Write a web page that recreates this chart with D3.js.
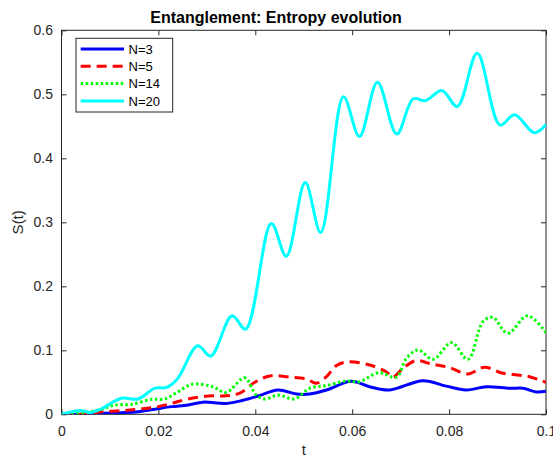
<!DOCTYPE html>
<html>
<head>
<meta charset="utf-8">
<script src="https://cdn.jsdelivr.net/npm/d3@7"></script>
<style>
  body { margin: 0; background: #fff; }
  svg { display: block; font-family: "Liberation Sans", Arial, sans-serif; }
</style>
</head>
<body>
<div id="chart"></div>
<script>
// values
var tN3 = [0, 0.0044, 0.0083, 0.0124, 0.0158, 0.0193, 0.0227, 0.0261, 0.0292, 0.034, 0.0375, 0.0406, 0.0447, 0.0485, 0.0512, 0.0547, 0.0598, 0.0636, 0.0677, 0.0746, 0.0794, 0.0835, 0.0877, 0.0925, 0.0952, 0.098, 0.1];
var sN3 = [0, 0, 0.0016, 0.0025, 0.004, 0.008, 0.012, 0.0145, 0.019, 0.017, 0.022, 0.0286, 0.038, 0.0317, 0.0317, 0.038, 0.0516, 0.043, 0.038, 0.0525, 0.044, 0.038, 0.043, 0.0406, 0.0406, 0.035, 0.036];

var tN5 = [0, 0.0044, 0.0083, 0.0124, 0.0158, 0.0193, 0.0227, 0.0261, 0.0303, 0.034, 0.0368, 0.0399, 0.043, 0.0471, 0.0506, 0.0526, 0.0547, 0.0567, 0.0591, 0.0636, 0.067, 0.0684, 0.0705, 0.0732, 0.0763, 0.0801, 0.0839, 0.0873, 0.0911, 0.0942, 0.0966, 0.0987, 0.1];
var sN5 = [0, 0, 0.004, 0.0056, 0.008, 0.011, 0.017, 0.024, 0.0286, 0.029, 0.033, 0.05, 0.06, 0.058, 0.055, 0.0485, 0.059, 0.076, 0.082, 0.077, 0.0666, 0.058, 0.072, 0.084, 0.0786, 0.073, 0.063, 0.0734, 0.064, 0.0614, 0.0588, 0.0536, 0.05];

var tN14 = [0, 0.0044, 0.0083, 0.011, 0.0145, 0.0186, 0.0213, 0.024, 0.027, 0.0312, 0.034, 0.0378, 0.0402, 0.042, 0.0447, 0.0481, 0.0512, 0.0547, 0.0588, 0.0615, 0.0655, 0.0691, 0.0712, 0.0736, 0.0767, 0.0805, 0.0839, 0.087, 0.089, 0.0921, 0.0962, 0.1];
var sN14 = [0, 0.002, 0.008, 0.0145, 0.0156, 0.0234, 0.024, 0.035, 0.047, 0.043, 0.034, 0.057, 0.03, 0.024, 0.03, 0.024, 0.0406, 0.045, 0.052, 0.051, 0.065, 0.058, 0.0875, 0.1005, 0.086, 0.112, 0.086, 0.145, 0.1516, 0.1266, 0.154, 0.1275];

var tN20 = [0, 0.0039, 0.006, 0.0083, 0.0124, 0.0158, 0.0193, 0.0217, 0.024, 0.0281, 0.0308, 0.0352, 0.038, 0.0433, 0.0464, 0.0503, 0.0535, 0.0582, 0.0615, 0.0652, 0.0692, 0.0726, 0.0751, 0.0785, 0.0817, 0.0858, 0.0905, 0.0935, 0.0976, 0.1];
var sN20 = [0, 0.006, 0.003, 0.009, 0.025, 0.024, 0.041, 0.042, 0.056, 0.107, 0.091, 0.154, 0.133, 0.298, 0.247, 0.362, 0.284, 0.496, 0.434, 0.519, 0.438, 0.493, 0.49, 0.506, 0.481, 0.564, 0.452, 0.468, 0.44, 0.453];

var seriesNames = ["N=3", "N=5", "N=14", "N=20"];
var xTicks = [0, 0.02, 0.04, 0.06, 0.08, 0.1];
var yTicks = [0, 0.1, 0.2, 0.3, 0.4, 0.5, 0.6];

var width = 553, height = 457;
var pLeft = 61.5, pRight = 546, pTop = 30.3, pBottom = 414.3;
var axisColor = "#262626";

var svg = d3.select("#chart").append("svg")
    .attr("width", width)
    .attr("height", height);

var x = d3.scaleLinear().domain([0, 0.1]).range([pLeft, pRight]);
var y = d3.scaleLinear().domain([0, 0.6]).range([pBottom, pTop]);

var fmt = function(d) { return d === 0 ? "0" : d3.format("~g")(d); };

// axes with inward ticks (box on)
function styleAxis(g) {
  g.select(".domain").remove();
  g.selectAll(".tick line").attr("stroke", axisColor);
  g.selectAll(".tick text").attr("fill", axisColor).style("font-size", "14px");
}

svg.append("g")
    .attr("transform", "translate(0," + pBottom + ")")
    .call(d3.axisBottom(x).tickValues(xTicks).tickFormat(fmt).tickSizeInner(-5).tickSizeOuter(0).tickPadding(12))
    .call(styleAxis);

svg.append("g")
    .attr("transform", "translate(0," + pTop + ")")
    .call(d3.axisTop(x).tickValues(xTicks).tickFormat("").tickSizeInner(-5).tickSizeOuter(0))
    .call(styleAxis);

svg.append("g")
    .attr("transform", "translate(" + pLeft + ",0)")
    .call(d3.axisLeft(y).tickValues(yTicks).tickFormat(fmt).tickSizeInner(-5).tickSizeOuter(0).tickPadding(8.5))
    .call(styleAxis);

svg.append("g")
    .attr("transform", "translate(" + pRight + ",0)")
    .call(d3.axisRight(y).tickValues(yTicks).tickFormat("").tickSizeInner(-5).tickSizeOuter(0))
    .call(styleAxis);

svg.append("rect")
    .attr("x", pLeft).attr("y", pTop)
    .attr("width", pRight - pLeft).attr("height", pBottom - pTop)
    .attr("fill", "none")
    .attr("stroke", axisColor)
    .attr("stroke-width", 1);

svg.append("clipPath").attr("id", "clip")
  .append("rect")
    .attr("x", pLeft).attr("y", pTop)
    .attr("width", pRight - pLeft).attr("height", pBottom - pTop);

var series = [
  {name: seriesNames[0], t: tN3, s: sN3, color: "#0000ff", dash: null},
  {name: seriesNames[1], t: tN5, s: sN5, color: "#ff0000", dash: "10,6"},
  {name: seriesNames[2], t: tN14, s: sN14, color: "#00ff00", dash: "2.5,2.5"},
  {name: seriesNames[3], t: tN20, s: sN20, color: "#00ffff", dash: null}
];

var line = d3.line()
    .x(function(d) { return x(d[0]); })
    .y(function(d) { return y(d[1]); })
    .curve(d3.curveCatmullRom.alpha(0.5));

svg.append("g").attr("clip-path", "url(#clip)")
  .selectAll("path")
  .data(series)
  .enter().append("path")
    .attr("d", function(d) { return line(d.t.map(function(t, i) { return [t, d.s[i]]; })); })
    .attr("fill", "none")
    .attr("stroke", function(d) { return d.color; })
    .attr("stroke-width", 3)
    .attr("stroke-dasharray", function(d) { return d.dash; })
    .attr("stroke-linejoin", "round");

// title and labels
svg.append("text")
    .attr("x", 276).attr("y", 23)
    .attr("text-anchor", "middle")
    .style("font-size", "16px")
    .style("font-weight", "bold")
    .attr("fill", "#000")
    .text("Entanglement: Entropy evolution");

svg.append("text")
    .attr("x", (pLeft + pRight) / 2).attr("y", 455)
    .attr("text-anchor", "middle")
    .style("font-size", "15px")
    .attr("fill", axisColor)
    .text("t");

svg.append("text")
    .attr("transform", "translate(23," + ((pTop + pBottom) / 2) + ") rotate(-90)")
    .attr("text-anchor", "middle")
    .style("font-size", "15px")
    .attr("fill", axisColor)
    .text("S(t)");

// legend
var legend = svg.append("g");
legend.append("rect")
    .attr("x", 76).attr("y", 38.3)
    .attr("width", 96.7).attr("height", 73.7)
    .attr("fill", "#fff")
    .attr("stroke", axisColor)
    .attr("stroke-width", 1);

var row = legend.selectAll(".row")
    .data(series)
  .enter().append("g")
    .attr("class", "row")
    .attr("transform", function(d, i) { return "translate(0," + (49 + i * 17.3) + ")"; });

row.append("line")
    .attr("x1", 80.7).attr("x2", 124)
    .attr("stroke", function(d) { return d.color; })
    .attr("stroke-width", 3)
    .attr("stroke-dasharray", function(d) { return d.dash; });

row.append("text")
    .attr("x", 128.5).attr("dy", "0.36em")
    .style("font-size", "13px")
    .attr("fill", "#000")
    .text(function(d) { return d.name; });
</script>
</body>
</html>
